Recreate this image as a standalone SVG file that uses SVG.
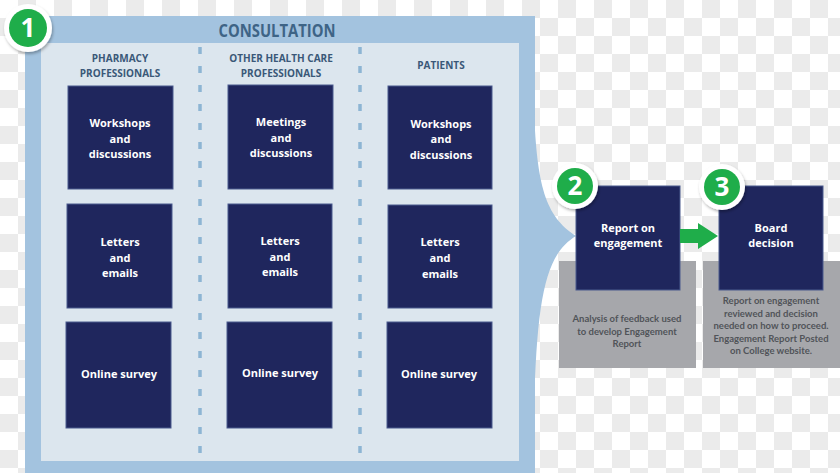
<svg xmlns="http://www.w3.org/2000/svg" width="840" height="473" viewBox="0 0 840 473">
<defs>
<pattern id="checker" width="36" height="36" patternUnits="userSpaceOnUse">
<rect width="36" height="36" fill="#ffffff"/>
<rect x="18" y="0" width="18" height="18" fill="#ebebeb"/>
<rect x="0" y="18" width="18" height="18" fill="#ebebeb"/>
</pattern>
<filter id="shadow" x="-30%" y="-30%" width="160%" height="160%">
<feDropShadow dx="1" dy="2" stdDeviation="1.8" flood-color="#000" flood-opacity="0.3"/>
</filter>
<style>
.navy{fill:#1f265d;stroke:#4a5a8e;stroke-width:1}
.wt{font-family:"Open Sans",Lato,sans-serif;font-weight:bold;fill:#ffffff;text-anchor:middle;font-size:11px}
.hd{font-family:"Open Sans",Lato,sans-serif;font-weight:bold;fill:#3a5878;text-anchor:middle;font-size:10px}
.gt{font-family:Lato,"Open Sans",sans-serif;font-weight:bold;fill:#515459;text-anchor:middle;font-size:9.5px}
.grey{fill:#a6a7ab}
.dash{stroke:#8db5d3;stroke-width:3.5;stroke-dasharray:7 12;fill:none}
.ring{fill:#ffffff;filter:url(#shadow)}
.green{fill:#1fad4a}
.num{font-family:"Open Sans",Lato,sans-serif;font-weight:bold;fill:#ffffff;text-anchor:middle;font-size:26px}
</style>
</defs>
<rect width="840" height="473" fill="url(#checker)"/>

<g id="consultation">
<rect x="25" y="16" width="510" height="457" fill="#a3c3df"/>
<path d="M534,110 C537,185 545,216 576,236 C546,254 537,295 534,410 Z" fill="#a3c3df"/>
<rect x="41" y="43" width="478" height="418" fill="#dce6ee"/>
<text x="277" y="37" font-family="'Open Sans',Lato,sans-serif" font-weight="bold" font-size="18" fill="#3e6486" text-anchor="middle" textLength="117" lengthAdjust="spacingAndGlyphs">CONSULTATION</text>
<line class="dash" x1="200" y1="47" x2="200" y2="456"/>
<line class="dash" x1="360" y1="47" x2="360" y2="456"/>
<text class="hd" x="120" y="62">PHARMACY</text>
<text class="hd" x="120" y="77">PROFESSIONALS</text>
<text class="hd" x="281" y="62">OTHER HEALTH CARE</text>
<text class="hd" x="281" y="77">PROFESSIONALS</text>
<text class="hd" x="441" y="69">PATIENTS</text>
</g>
<g id="badge1">
<circle class="ring" cx="28" cy="28" r="24"/>
<circle class="green" cx="28" cy="28" r="19"/>
<text class="num" x="28" y="37">1</text>
</g>

<g id="pharm-workshops">
<rect class="navy" x="68" y="86" width="105" height="103"/>
<text class="wt" x="120" y="127">Workshops</text>
<text class="wt" x="120" y="143">and</text>
<text class="wt" x="120" y="158">discussions</text>
</g>
<g id="pharm-letters">
<rect class="navy" x="67" y="204" width="105" height="104"/>
<text class="wt" x="120" y="246">Letters</text>
<text class="wt" x="120" y="262">and</text>
<text class="wt" x="120" y="277">emails</text>
</g>
<g id="pharm-survey">
<rect class="navy" x="66" y="322" width="105" height="106"/>
<text class="wt" x="119" y="378">Online survey</text>
</g>

<g id="other-meetings">
<rect class="navy" x="228" y="85" width="105" height="104"/>
<text class="wt" x="281" y="126">Meetings</text>
<text class="wt" x="281" y="142">and</text>
<text class="wt" x="281" y="157">discussions</text>
</g>
<g id="other-letters">
<rect class="navy" x="228" y="204" width="104" height="104"/>
<text class="wt" x="280" y="245">Letters</text>
<text class="wt" x="280" y="261">and</text>
<text class="wt" x="280" y="276">emails</text>
</g>
<g id="other-survey">
<rect class="navy" x="227" y="322" width="105" height="106"/>
<text class="wt" x="280" y="377">Online survey</text>
</g>

<g id="patients-workshops">
<rect class="navy" x="388" y="86" width="104" height="103"/>
<text class="wt" x="441" y="128">Workshops</text>
<text class="wt" x="441" y="143">and</text>
<text class="wt" x="441" y="159">discussions</text>
</g>
<g id="patients-letters">
<rect class="navy" x="388" y="205" width="104" height="103"/>
<text class="wt" x="440" y="246">Letters</text>
<text class="wt" x="440" y="262">and</text>
<text class="wt" x="440" y="278">emails</text>
</g>
<g id="patients-survey">
<rect class="navy" x="387" y="322" width="105" height="106"/>
<text class="wt" x="439" y="378">Online survey</text>
</g>

<g id="report">
<rect class="grey" x="559" y="261" width="137" height="107"/>
<rect class="navy" x="576" y="186" width="104" height="104"/>
<text class="wt" x="628" y="232">Report on</text>
<text class="wt" x="628" y="247">engagement</text>
<text class="gt" x="627" y="322">Analysis of feedback used</text>
<text class="gt" x="627" y="335">to develop Engagement</text>
<text class="gt" x="627" y="347">Report</text>
</g>
<g id="badge2">
<circle class="ring" cx="575" cy="186" r="23"/>
<circle class="green" cx="575" cy="186" r="18"/>
<text class="num" x="575" y="195">2</text>
</g>

<g id="board">
<rect class="grey" x="703" y="261" width="137" height="107"/>
<rect class="navy" x="719" y="186" width="104" height="104"/>
<text class="wt" x="771" y="232">Board</text>
<text class="wt" x="771" y="247">decision</text>
<text class="gt" x="771" y="304">Report on engagement</text>
<text class="gt" x="771" y="316.5">reviewed and decision</text>
<text class="gt" x="771" y="329">needed on how to proceed.</text>
<text class="gt" x="771" y="341.5">Engagement Report Posted</text>
<text class="gt" x="771" y="354">on College website.</text>
</g>
<g id="badge3">
<circle class="ring" cx="722" cy="187" r="23"/>
<circle class="green" cx="722" cy="187" r="18"/>
<text class="num" x="722" y="196">3</text>
</g>

<g id="connectors">
<polygon class="green" points="680,229 698,229 698,223 718,236 698,249 698,243 680,243"/>
</g>
</svg>
